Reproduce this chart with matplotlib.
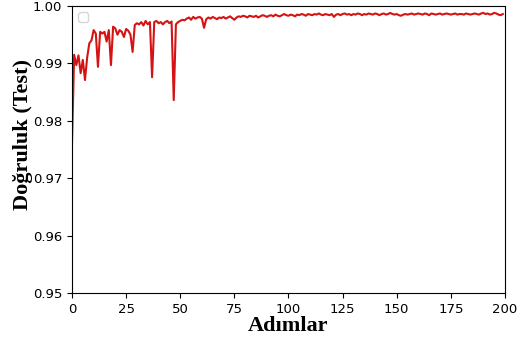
import numpy as np
import matplotlib
matplotlib.use('Agg')
import matplotlib.pyplot as plt

# ── Veri: test doğruluğu (adım başına) ────────────────────────────────────────
acc_early = [0.9760, 0.9915, 0.9897, 0.9914, 0.9883, 0.9906, 0.9871, 0.9910, 0.9935, 0.9940,
             0.9958, 0.9952, 0.9894, 0.9955, 0.9952, 0.9955, 0.9938, 0.9958, 0.9897, 0.9964,
             0.9961, 0.9950, 0.9958, 0.9955, 0.9946, 0.9960, 0.9957, 0.9950, 0.9920, 0.9967,
             0.9970, 0.9968, 0.9972, 0.9966, 0.9974, 0.9968, 0.9972, 0.9876, 0.9972, 0.9974,
             0.9970, 0.9972, 0.9968, 0.9972, 0.9974, 0.9970, 0.9973, 0.9836, 0.9968, 0.9972,
             0.9974, 0.9976, 0.9975, 0.9978, 0.9980, 0.9976, 0.9981, 0.9978, 0.9980, 0.9981]
acc_mid = [0.9978, 0.9962, 0.9977, 0.9980, 0.9978, 0.9981, 0.9979, 0.9977, 0.9980, 0.9979,
           0.9981, 0.9978, 0.9980, 0.9982, 0.9979, 0.9976, 0.9980, 0.9982, 0.9981, 0.9983,
           0.9982, 0.9980, 0.9983, 0.9982, 0.9981, 0.9983, 0.9980, 0.9982, 0.9984, 0.9983,
           0.9981, 0.9983, 0.9984, 0.9982, 0.9985, 0.9983, 0.9982, 0.9984, 0.9986, 0.9984,
           0.9983, 0.9985, 0.9984, 0.9982, 0.9985, 0.9984, 0.9986, 0.9985, 0.9983, 0.9986]
acc_late = [0.9985, 0.9984, 0.9986, 0.9985, 0.9987, 0.9985, 0.9984, 0.9986, 0.9985, 0.9984,
            0.9986, 0.9981, 0.9985, 0.9986, 0.9984, 0.9986, 0.9987, 0.9985, 0.9986, 0.9984,
            0.9986, 0.9985, 0.9987, 0.9986, 0.9984, 0.9986, 0.9985, 0.9987, 0.9986, 0.9985,
            0.9987, 0.9986, 0.9984, 0.9986, 0.9987, 0.9985, 0.9986, 0.9988, 0.9986, 0.9985,
            0.9986, 0.9984, 0.9983, 0.9985, 0.9986, 0.9985, 0.9986, 0.9987, 0.9985, 0.9986,
            0.9987, 0.9986, 0.9985, 0.9987, 0.9986, 0.9984, 0.9987, 0.9986, 0.9985, 0.9986,
            0.9987, 0.9985, 0.9986, 0.9987, 0.9986, 0.9985, 0.9986, 0.9987, 0.9985, 0.9986,
            0.9986, 0.9985, 0.9987, 0.9986, 0.9985, 0.9986, 0.9987, 0.9986, 0.9985, 0.9987,
            0.9988, 0.9986, 0.9987, 0.9985, 0.9986, 0.9988, 0.9987, 0.9985, 0.9984, 0.9986]

acc = np.array(acc_early + acc_mid + acc_late)
steps = np.arange(len(acc))

x_ticks = [0, 25, 50, 75, 100, 125, 150, 175, 200]
y_ticks = [0.95, 0.96, 0.97, 0.98, 0.99, 1.00]

# ── Çizim ─────────────────────────────────────────────────────────────────────
fig = plt.figure(figsize=(5.27, 3.47), dpi=100, facecolor='white')
ax = fig.add_axes([0.1366, 0.1556, 0.8216, 0.8271])

ax.plot(steps, acc, color='#d41414', linewidth=1.5)
ax.legend(handles=[], loc='upper left', fontsize=9)

ax.set_xlim(0, 200)
ax.set_ylim(0.95, 1.00)
ax.set_xticks(x_ticks)
ax.set_yticks(y_ticks)
ax.set_yticklabels([f'{v:.2f}' for v in y_ticks])
ax.tick_params(labelsize=9.5)

ax.set_xlabel('Adımlar', fontsize=16, fontweight='bold', family='Liberation Serif', labelpad=0)
ax.set_ylabel('Doğruluk (Test)', fontsize=16, fontweight='bold', family='Liberation Serif')
ax.yaxis.set_label_coords(-0.089, 0.554)

plt.savefig('out.png', dpi=100, facecolor='white')
plt.close()
